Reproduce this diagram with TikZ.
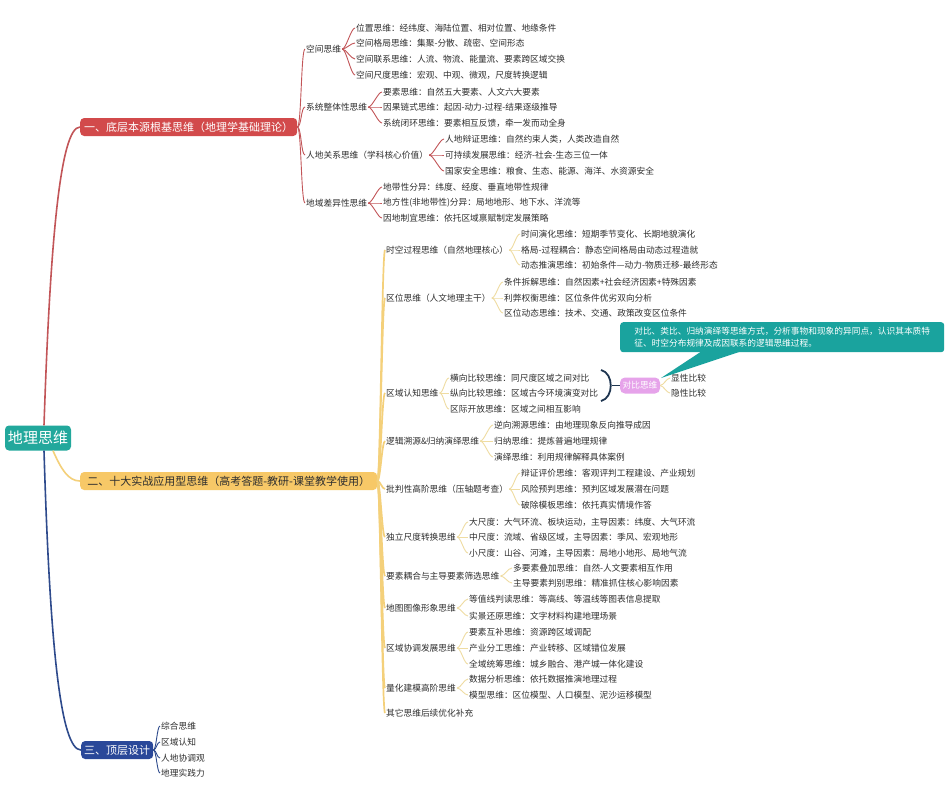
\documentclass[tikz,border=0pt]{standalone}
\usepackage{fontspec}
\setmainfont{Noto Sans CJK SC}
\definecolor{txt}{HTML}{2E2E2E}
\definecolor{rootc}{HTML}{22A89C}
\definecolor{redf}{HTML}{D24A4B}
\definecolor{redln}{HTML}{C25558}
\definecolor{yelf}{HTML}{F7C867}
\definecolor{yelln}{HTML}{F4D07A}
\definecolor{yellt}{HTML}{EFDCA2}
\definecolor{bluf}{HTML}{2A4899}
\definecolor{bluln}{HTML}{2E4A8C}
\definecolor{pinkf}{HTML}{E6A3EA}
\definecolor{callc}{HTML}{1AA39E}
\definecolor{brk}{HTML}{1E3550}
\newcommand\mmlink[4]{\draw[#1] (#2) .. controls +(#4,0) and +(-#4,0) .. (#3);}
\begin{document}
\begin{tikzpicture}[x=1pt,y=-1pt,
  t/.style={anchor=west, inner sep=1pt, font=\fontsize{8.7}{10}\selectfont, text=txt},
  branchbox/.style={rounded corners=4pt, inner sep=0pt, minimum height=18pt, font=\fontsize{11}{12}\selectfont, anchor=west},
  lr/.style={draw=redln, line width=0.9pt},
  ly/.style={draw=yelln, line width=1.7pt},
  lys/.style={draw=yellt, line width=0.9pt},
  lb/.style={draw=bluln, line width=0.9pt},
  rootln/.style={line width=1.6pt}]
\useasboundingbox (0,0) rectangle (952,788);
\fill[white] (0,0) rectangle (952,788);

% root and main branches
\node[fill=rootc, text=white, rounded corners=4pt, minimum width=66pt, minimum height=25pt, inner sep=0pt, font=\fontsize{15}{16}\selectfont] (root) at (38,438) {地理思维};
\node[branchbox, fill=redf, text=white, minimum width=217pt] (b1) at (80,127) {一、底层本源根基思维（地理学基础理论）};
\node[branchbox, fill=yelf, text=txt, minimum width=297pt] (b2) at (80,481) {二、十大实战应用型思维（高考答题-教研-课堂教学使用）};
\node[branchbox, fill=bluf, text=white, minimum width=72pt] (b3) at (81,750) {三、顶层设计};

\draw[rootln, draw=redln] ([xshift=6pt]root.north) .. controls +(6,-180) and +(-20,0) .. (b1.west);
\draw[rootln, draw=yelln] ([xshift=15pt]root.south) .. controls +(8,18) and +(-12,0) .. (b2.west);
\draw[rootln, draw=bluln] ([xshift=6pt]root.south) .. controls +(6,200) and +(-20,0) .. (b3.west);

% ---------- branch 1 ----------
\node[t] (b1a) at (305,49) {空间思维};
\node[t] (b1b) at (305,107) {系统整体性思维};
\node[t] (b1c) at (305,155) {人地关系思维（学科核心价值）};
\node[t] (b1d) at (305,203) {地域差异性思维};
\foreach \c in {b1a,b1b,b1c,b1d}{\mmlink{lr}{b1.east}{\c.west}{4}}

\node[t] (b1a1) at (355,28) {位置思维：经纬度、海陆位置、相对位置、地缘条件};
\node[t] (b1a2) at (355,43) {空间格局思维：集聚-分散、疏密、空间形态};
\node[t] (b1a3) at (355,59) {空间联系思维：人流、物流、能量流、要素跨区域交换};
\node[t] (b1a4) at (355,75) {空间尺度思维：宏观、中观、微观，尺度转换逻辑};
\foreach \c in {b1a1,b1a2,b1a3,b1a4}{\mmlink{lr}{b1a.east}{\c.west}{4}}

\node[t] (b1b1) at (382,92) {要素思维：自然五大要素、人文六大要素};
\node[t] (b1b2) at (382,107) {因果链式思维：起因-动力-过程-结果逐级推导};
\node[t] (b1b3) at (382,123) {系统闭环思维：要素相互反馈，牵一发而动全身};
\foreach \c in {b1b1,b1b2,b1b3}{\mmlink{lr}{b1b.east}{\c.west}{4}}

\node[t] (b1c1) at (444,139) {人地辩证思维：自然约束人类，人类改造自然};
\node[t] (b1c2) at (444,155) {可持续发展思维：经济-社会-生态三位一体};
\node[t] (b1c3) at (444,171) {国家安全思维：粮食、生态、能源、海洋、水资源安全};
\foreach \c in {b1c1,b1c2,b1c3}{\mmlink{lr}{b1c.east}{\c.west}{4}}

\node[t] (b1d1) at (382,187) {地带性分异：纬度、经度、垂直地带性规律};
\node[t] (b1d2) at (382,203) {地方性(非地带性)分异：局地地形、地下水、洋流等};
\node[t] (b1d3) at (382,218) {因地制宜思维：依托区域禀赋制定发展策略};
\foreach \c in {b1d1,b1d2,b1d3}{\mmlink{lr}{b1d.east}{\c.west}{4}}

% ---------- branch 2 ----------
\node[t] (b2a) at (385,250) {时空过程思维（自然地理核心）};
\node[t] (b2b) at (385,298) {区位思维（人文地理主干）};
\node[t] (b2c) at (385,393) {区域认知思维};
\node[t] (b2d) at (385,441) {逻辑溯源\&归纳演绎思维};
\node[t] (b2e) at (385,489) {批判性高阶思维（压轴题考查）};
\node[t] (b2f) at (385,537) {独立尺度转换思维};
\node[t] (b2g) at (385,576) {要素耦合与主导要素筛选思维};
\node[t] (b2h) at (385,608) {地图图像形象思维};
\node[t] (b2i) at (385,648) {区域协调发展思维};
\node[t] (b2j) at (385,688) {量化建模高阶思维};
\node[t] (b2k) at (385,713) {其它思维后续优化补充};
\foreach \c in {b2a,b2b,b2c,b2d,b2e,b2f,b2g,b2h,b2i,b2j,b2k}{\mmlink{ly}{b2.east}{\c.west}{3}}

\node[t] (b2a1) at (520,234) {时间演化思维：短期季节变化、长期地貌演化};
\node[t] (b2a2) at (520,250) {格局-过程耦合：静态空间格局由动态过程造就};
\node[t] (b2a3) at (520,265) {动态推演思维：初始条件—动力-物质迁移-最终形态};
\foreach \c in {b2a1,b2a2,b2a3}{\mmlink{lys}{b2a.east}{\c.west}{4}}

\node[t] (b2b1) at (503,282) {条件拆解思维：自然因素+社会经济因素+特殊因素};
\node[t] (b2b2) at (503,298) {利弊权衡思维：区位条件优劣双向分析};
\node[t] (b2b3) at (503,313) {区位动态思维：技术、交通、政策改变区位条件};
\foreach \c in {b2b1,b2b2,b2b3}{\mmlink{lys}{b2b.east}{\c.west}{4}}

\node[t] (b2c1) at (449,378) {横向比较思维：同尺度区域之间对比};
\node[t] (b2c2) at (449,393) {纵向比较思维：区域古今环境演变对比};
\node[t] (b2c3) at (449,409) {区际开放思维：区域之间相互影响};
\foreach \c in {b2c1,b2c2,b2c3}{\mmlink{lys}{b2c.east}{\c.west}{4}}

% summary bracket and 对比思维
\coordinate (brt) at (601,370);
\coordinate (brb) at (601,401);
\coordinate (brm) at (612,385.5);
\draw[brk, line width=1.8pt] (brt) .. controls (614,373) and (614,398) .. (brb);
\node[fill=pinkf, text=white, rounded corners=5pt, inner sep=0pt, minimum width=40pt, minimum height=16pt, font=\fontsize{8.7}{9}\selectfont] (cmp) at (640,385.5) {对比思维};
\draw[brk, line width=1.2pt] (brm) -- (cmp.west);
\node[t] (cmp1) at (670,378) {显性比较};
\node[t] (cmp2) at (670,393) {隐性比较};
\foreach \c in {cmp1,cmp2}{\mmlink{lys}{cmp.east}{\c.west}{3}}

% callout
\fill[callc] (702,351) -- (661,378) -- (742,351) -- cycle;
\node[fill=callc, text=white, rounded corners=3pt, anchor=north west, minimum width=324pt, minimum height=30pt, inner xsep=7pt, inner ysep=3pt, align=left, font=\fontsize{8.7}{12}\selectfont] (note) at (620,322) {对比、类比、归纳演绎等思维方式，分析事物和现象的异同点，认识其本质特\\征、时空分布规律及成因联系的逻辑思维过程。};

\node[t] (b2d1) at (493,425) {逆向溯源思维：由地理现象反向推导成因};
\node[t] (b2d2) at (493,441) {归纳思维：提炼普遍地理规律};
\node[t] (b2d3) at (493,457) {演绎思维：利用规律解释具体案例};
\foreach \c in {b2d1,b2d2,b2d3}{\mmlink{lys}{b2d.east}{\c.west}{4}}

\node[t] (b2e1) at (520,473) {辩证评价思维：客观评判工程建设、产业规划};
\node[t] (b2e2) at (520,489) {风险预判思维：预判区域发展潜在问题};
\node[t] (b2e3) at (520,505) {破除模板思维：依托真实情境作答};
\foreach \c in {b2e1,b2e2,b2e3}{\mmlink{lys}{b2e.east}{\c.west}{4}}

\node[t] (b2f1) at (468,522) {大尺度：大气环流、板块运动，主导因素：纬度、大气环流};
\node[t] (b2f2) at (468,537) {中尺度：流域、省级区域，主导因素：季风、宏观地形};
\node[t] (b2f3) at (468,553) {小尺度：山谷、河滩，主导因素：局地小地形、局地气流};
\foreach \c in {b2f1,b2f2,b2f3}{\mmlink{lys}{b2f.east}{\c.west}{4}}

\node[t] (b2g1) at (512,568) {多要素叠加思维：自然-人文要素相互作用};
\node[t] (b2g2) at (512,583) {主导要素判别思维：精准抓住核心影响因素};
\foreach \c in {b2g1,b2g2}{\mmlink{lys}{b2g.east}{\c.west}{4}}

\node[t] (b2h1) at (468,599) {等值线判读思维：等高线、等温线等图表信息提取};
\node[t] (b2h2) at (468,616) {实景还原思维：文字材料构建地理场景};
\foreach \c in {b2h1,b2h2}{\mmlink{lys}{b2h.east}{\c.west}{4}}

\node[t] (b2i1) at (468,632) {要素互补思维：资源跨区域调配};
\node[t] (b2i2) at (468,648) {产业分工思维：产业转移、区域错位发展};
\node[t] (b2i3) at (468,664) {全域统筹思维：城乡融合、港产城一体化建设};
\foreach \c in {b2i1,b2i2,b2i3}{\mmlink{lys}{b2i.east}{\c.west}{4}}

\node[t] (b2j1) at (468,679) {数据分析思维：依托数据推演地理过程};
\node[t] (b2j2) at (468,695) {模型思维：区位模型、人口模型、泥沙运移模型};
\foreach \c in {b2j1,b2j2}{\mmlink{lys}{b2j.east}{\c.west}{4}}

% ---------- branch 3 ----------
\node[t] (b3a) at (160,726) {综合思维};
\node[t] (b3b) at (160,742) {区域认知};
\node[t] (b3c) at (160,758) {人地协调观};
\node[t] (b3d) at (160,773) {地理实践力};
\foreach \c in {b3a,b3b,b3c,b3d}{\mmlink{lb}{b3.east}{\c.west}{3}}
\end{tikzpicture}
\end{document}
